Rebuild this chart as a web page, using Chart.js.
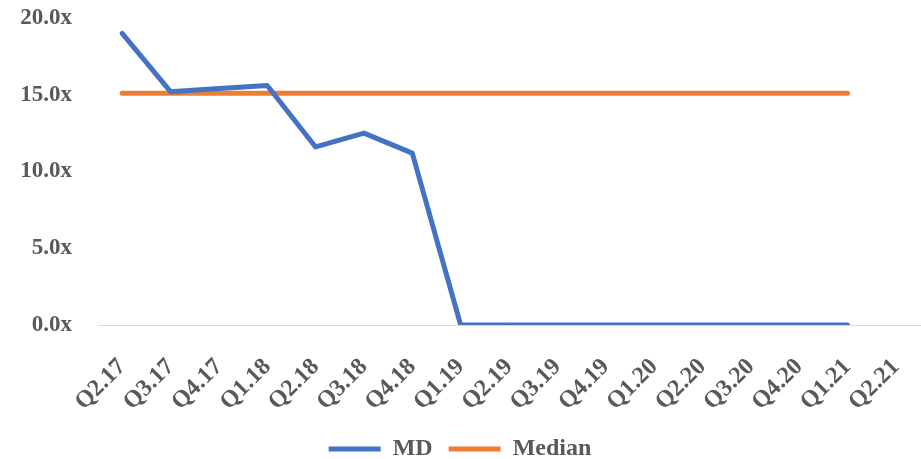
<!DOCTYPE html>
<html>
<head>
<meta charset="utf-8">
<script src="https://cdn.jsdelivr.net/npm/chart.js@4/dist/chart.umd.min.js"></script>
<style>
  html, body { margin: 0; padding: 0; background: #fff; }
  #wrap { width: 921px; height: 459px; position: relative; }
</style>
</head>
<body>
<div id="wrap"><canvas id="multipleChart"></canvas></div>
<script>
// Quarters on the x axis (last one has no data yet)
const quarters = ['Q2.17', 'Q3.17', 'Q4.17', 'Q1.18', 'Q2.18', 'Q3.18', 'Q4.18', 'Q1.19',
    'Q2.19', 'Q3.19', 'Q4.19', 'Q1.20', 'Q2.20', 'Q3.20', 'Q4.20', 'Q1.21', 'Q2.21'];

// EV multiple for MD
const mdValues = [19.0, 15.2, 15.4, 15.6, 11.6, 12.5, 11.2, 0, 0, 0, 0, 0, 0, 0, 0, 0, null];

// Peer median
const medianValues = [15.1, 15.1, 15.1, 15.1, 15.1, 15.1, 15.1, 15.1, 15.1, 15.1, 15.1, 15.1,
    15.1, 15.1, 15.1, 15.1, null];

const yTicks = [0, 5, 10, 15, 20];

const textColor = '#595959';
const fontFamily = '"Liberation Serif", "Times New Roman", serif';

// Push the legend a bit further down towards the bottom edge
const legendOffset = {
    id: 'legendOffset',
    afterLayout(chart, args, opts) {
        const lg = chart.legend;
        if (!lg) return;
        lg.top += opts.dy;
        lg.bottom += opts.dy;
    },
};

const ctx = document.getElementById('multipleChart');

new Chart(ctx, {
    type: 'line',
    data: {
        labels: quarters,
        datasets: [
            {
                label: 'MD',
                data: mdValues,
                borderColor: '#4472C4',
                backgroundColor: '#4472C4',
                borderWidth: 5,
                borderCapStyle: 'round',
                borderJoinStyle: 'round',
                pointRadius: 0,
                tension: 0,
            },
            {
                label: 'Median',
                data: medianValues,
                borderColor: '#ED7D31',
                backgroundColor: '#ED7D31',
                borderWidth: 5,
                borderCapStyle: 'round',
                borderJoinStyle: 'round',
                pointRadius: 0,
                tension: 0,
            },
        ],
    },
    plugins: [legendOffset],
    options: {
        responsive: true,
        maintainAspectRatio: false,
        animation: false,
        layout: {
            padding: { top: 18, right: 1, left: 0, bottom: 0 },
        },
        plugins: {
            tooltip: { enabled: false },
            legendOffset: { dy: 12 },
            legend: {
                position: 'bottom',
                labels: {
                    color: textColor,
                    font: { family: fontFamily, size: 24, weight: 'bold' },
                    usePointStyle: true,
                    pointStyle: 'line',
                    pointStyleWidth: 52,
                    boxHeight: 14,
                    padding: 16,
                },
            },
        },
        scales: {
            x: {
                offset: true,
                grid: { display: false },
                border: { display: true, color: '#D9D9D9', width: 1 },
                ticks: {
                    color: textColor,
                    font: { family: fontFamily, size: 24, weight: 'bold' },
                    minRotation: 45,
                    maxRotation: 45,
                    autoSkip: false,
                    padding: 20,
                },
                afterFit: (scale) => {
                    scale.height = 84;
                    scale.paddingLeft = 0;
                    scale.paddingRight = 0;
                },
            },
            y: {
                min: 0,
                max: 20,
                grid: { display: false },
                border: { display: false },
                afterBuildTicks: (scale) => {
                    scale.ticks = yTicks.map(v => ({ value: v }));
                },
                ticks: {
                    color: textColor,
                    font: { family: fontFamily, size: 23, weight: 'bold' },
                    padding: 18,
                    callback: (value) => value.toFixed(1) + 'x',
                },
                afterFit: (scale) => {
                    scale.width = 98;
                    scale.paddingTop = 0;
                    scale.paddingBottom = 0;
                },
            },
        },
    },
});
</script>
</body>
</html>
